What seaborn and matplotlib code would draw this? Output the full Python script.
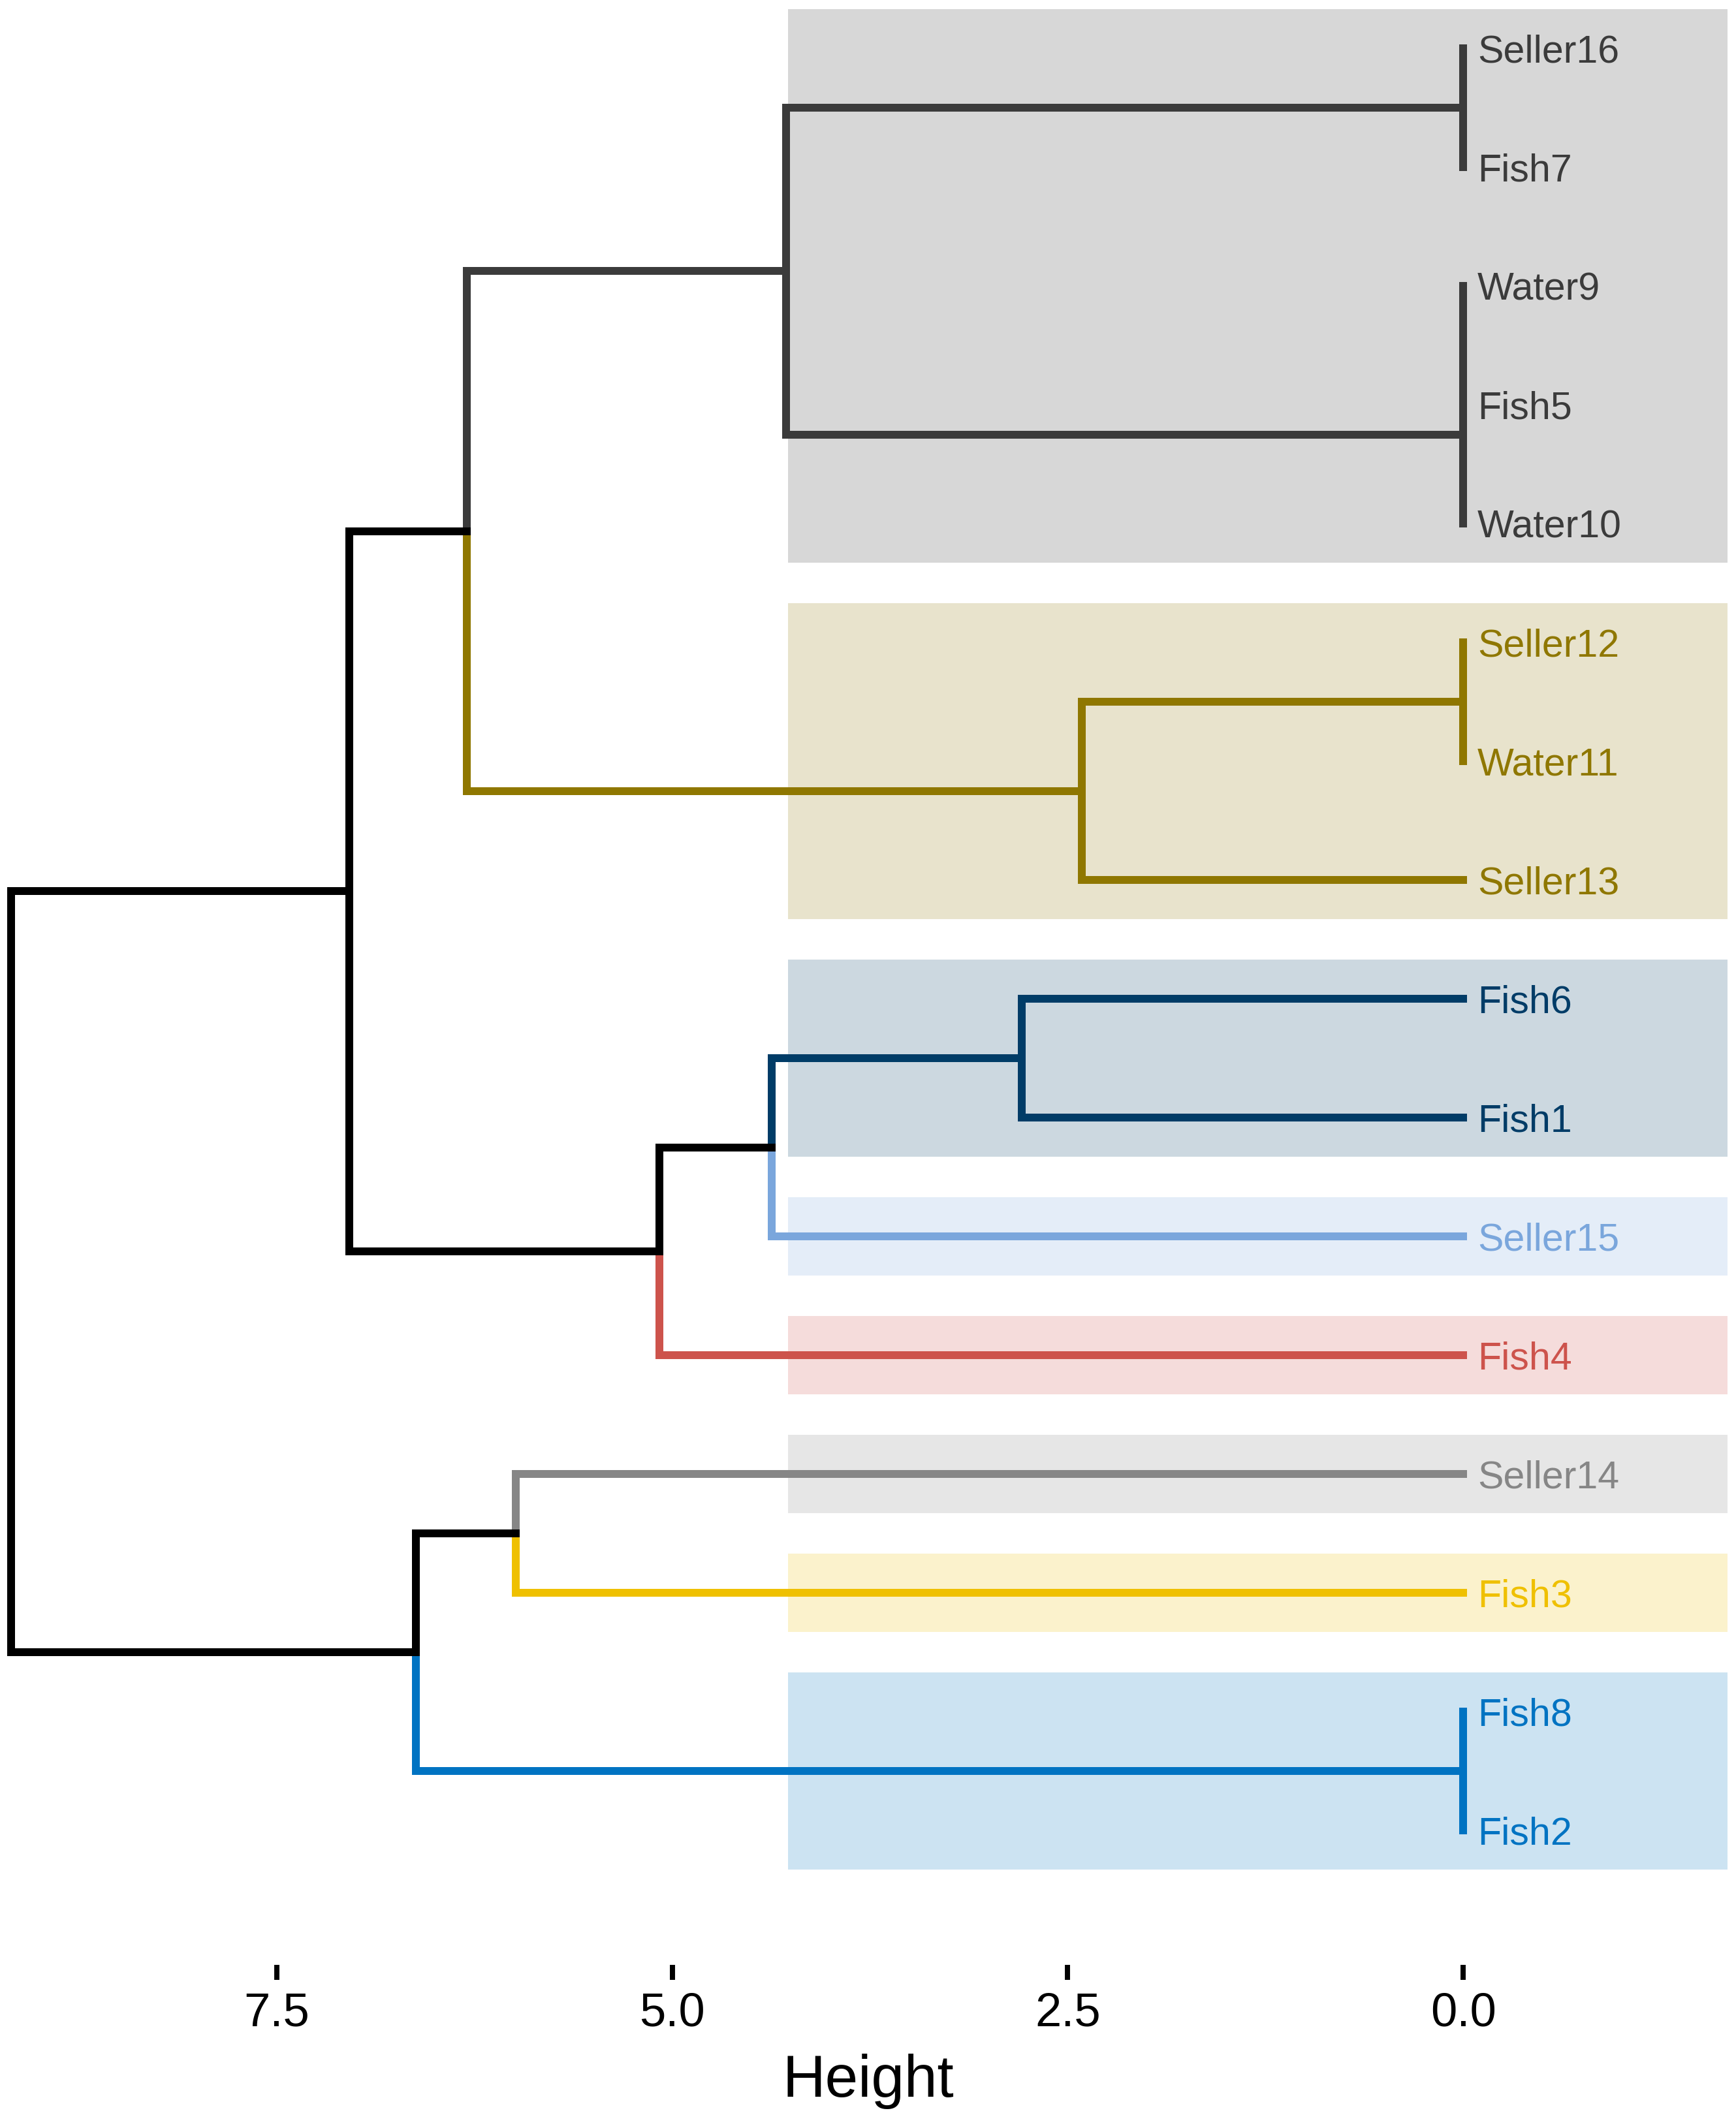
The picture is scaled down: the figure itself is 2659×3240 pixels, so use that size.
import matplotlib
matplotlib.use("Agg")
import matplotlib.pyplot as plt
import seaborn as sns
import numpy as np

# Leaves from top to bottom
leaves = ["Seller16", "Fish7", "Water9", "Fish5", "Water10",
          "Seller12", "Water11", "Seller13", "Fish6", "Fish1",
          "Seller15", "Fish4", "Seller14", "Fish3", "Fish8", "Fish2"]

# Merges: (left, right, height); "mN" refers to merge N
merge_left = ["Seller16", "Water9", "m1", "Seller12", "Fish8", "m3", "Fish6",
              "m0", "m6", "m8", "Seller14", "m7", "m10", "m11", "m13"]
merge_right = ["Fish7", "Fish5", "Water10", "Water11", "Fish2", "Seller13", "Fish1",
               "m2", "Seller15", "Fish4", "Fish3", "m5", "m4", "m9", "m12"]
merge_height = [0.0, 0.0, 0.0, 0.0, 0.0, 2.41, 2.79,
                4.28, 4.37, 5.08, 5.99, 6.30, 6.62, 7.04, 9.18]

# Clusters (k = 8), jco palette
cluster_members = [
    ["Seller16", "Fish7", "Water9", "Fish5", "Water10"],
    ["Seller12", "Water11", "Seller13"],
    ["Fish6", "Fish1"],
    ["Seller15"],
    ["Fish4"],
    ["Seller14"],
    ["Fish3"],
    ["Fish8", "Fish2"],
]
cluster_colors = ["#3B3B3B", "#8F7700", "#003C67", "#7AA6DC",
                  "#CD534C", "#868686", "#EFC000", "#0073C2"]

x_ticks = [7.5, 5.0, 2.5, 0.0]
x_ticklabels = ["7.5", "5.0", "2.5", "0.0"]

sns.set_theme(style="white")
plt.rcParams["font.family"] = ["Liberation Sans", "DejaVu Sans"]

leaf_pos = {name: i for i, name in enumerate(leaves)}
leaf_cluster = {}
for ci, members in enumerate(cluster_members):
    for m in members:
        leaf_cluster[m] = ci

node_y, node_h, node_leaves = {}, {}, {}
for name in leaves:
    node_y[name] = float(leaf_pos[name])
    node_h[name] = 0.0
    node_leaves[name] = [name]
for i, (l, r, h) in enumerate(zip(merge_left, merge_right, merge_height)):
    key = f"m{i}"
    node_y[key] = (node_y[l] + node_y[r]) / 2
    node_h[key] = h
    node_leaves[key] = node_leaves[l] + node_leaves[r]


def node_color(key):
    cl = {leaf_cluster[x] for x in node_leaves[key]}
    if len(cl) == 1:
        return cluster_colors[cl.pop()]
    return "black"


fig = plt.figure(figsize=(2659 / 300, 3240 / 300), dpi=300)
ax = fig.add_axes([0, 230 / 3240, 1, 3010 / 3240])

# cluster rectangles
rect_left, rect_right, pad = 4.27, -1.67, 0.33
for members, col in zip(cluster_members, cluster_colors):
    ys = [leaf_pos[m] for m in members]
    ax.fill_between([rect_right, rect_left], min(ys) - pad, max(ys) + pad,
                    color=col, alpha=0.2, linewidth=0, zorder=1)

# dendrogram branches
lw = 2.88
for i, (l, r, h) in enumerate(zip(merge_left, merge_right, merge_height)):
    key = f"m{i}"
    for child in (l, r):
        col = node_color(child)
        ax.plot([h, h, node_h[child]], [node_y[key], node_y[child], node_y[child]],
                color=col, linewidth=lw, solid_capstyle="projecting",
                solid_joinstyle="miter", zorder=2)

# leaf labels
for name in leaves:
    ax.text(-0.09, leaf_pos[name], name, color=cluster_colors[leaf_cluster[name]],
            fontsize=14.2, ha="left", va="center_baseline", zorder=3)

ax.set_xlim(9.25, -1.725)
ax.set_ylim(16.13, -0.407)
ax.set_xticks(x_ticks)
ax.set_xticklabels(x_ticklabels)
ax.set_yticks([])
ax.tick_params(axis="x", bottom=True, direction="out", length=5.5, width=1.9,
               pad=4.5, labelsize=17.4, colors="black")
for s in ax.spines.values():
    s.set_visible(False)
ax.grid(False)
ax.set_xlabel("Height", fontsize=21.8, color="black")
ax.xaxis.set_label_coords(0.5, -0.0452)
ax.xaxis.label.set_va("top")

fig.savefig("out.png", dpi=300)
